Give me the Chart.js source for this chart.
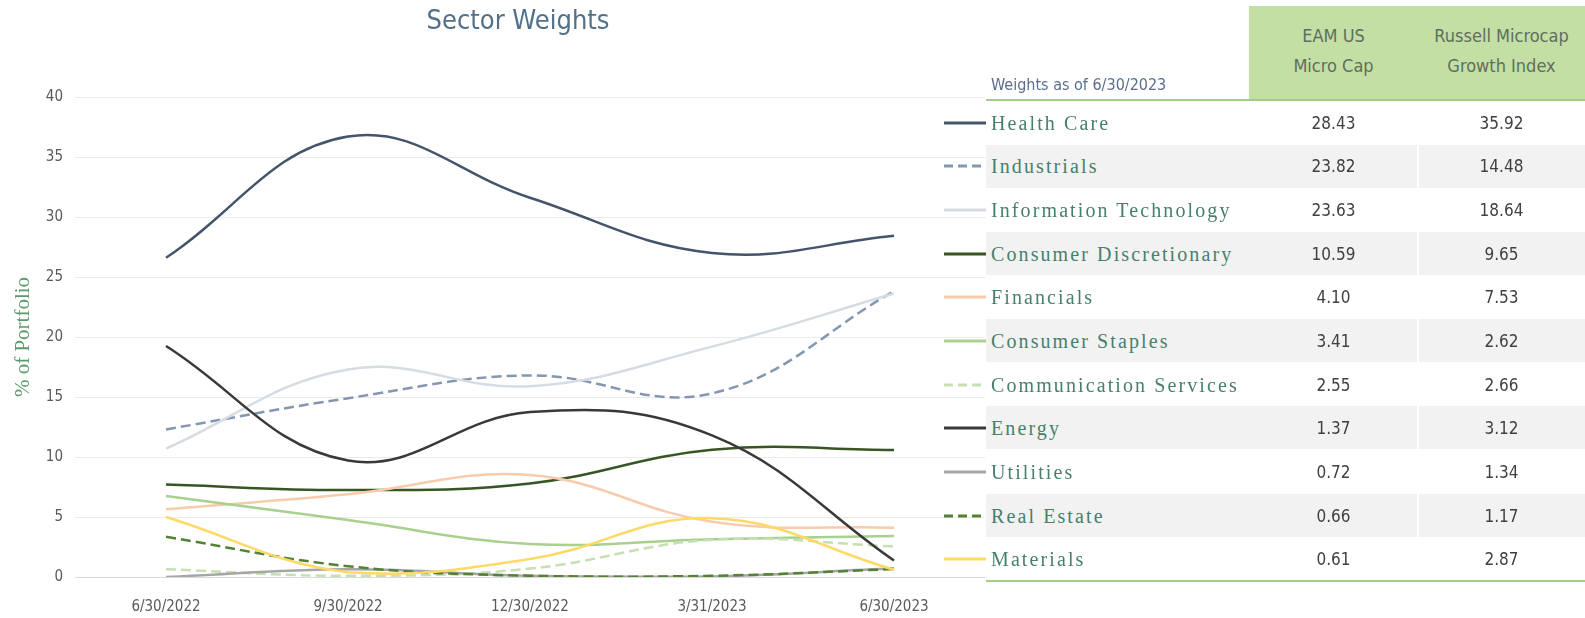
<!DOCTYPE html>
<html lang="en">
<head>
<meta charset="UTF-8">
<title>Sector Weights</title>
<script src="https://cdn.jsdelivr.net/npm/chart.js"></script>
<style>
  body { margin: 0; background: #fff; }
  #page { position: relative; width: 1585px; height: 618px; overflow: hidden; }
  #chart { position: absolute; left: 0; top: 0; }
  .narrow { font-family: "Liberation Sans Narrow", "DejaVu Sans Condensed", sans-serif; }
  .title { position: absolute; left: 400px; top: 3px; width: 236px; text-align: center;
           font-size: 27px; color: #527089; line-height: 34px; }
  .asof { position: absolute; left: 991px; top: 75px; font-size: 16px; color: #5b6e8c; line-height: 20px; }
  .head { position: absolute; top: 6px; height: 93px; background: #c4dfa3; }
  .headtxt { position: absolute; top: 21px; text-align: center; font-size: 18px; line-height: 30px; color: #5f6e60; }
  .rule { position: absolute; left: 986px; width: 599px; height: 2px; background: #a3cd86; }
  .shade { position: absolute; height: 43px; background: #f2f2f2; }
  .label { position: absolute; left: 991px; font-family: "Liberation Serif", "DejaVu Serif", serif;
           font-size: 20px; letter-spacing: 2.1px; color: #47806a; white-space: nowrap; }
  .val { position: absolute; text-align: center; font-size: 17px; color: #404040; }
  .swatch { position: absolute; left: 944px; }
</style>
</head>
<body>
<div id="page">
  <canvas id="chart" width="1585" height="618"></canvas>
  <div class="title narrow">Sector Weights</div>
  <div id="side"></div>
</div>

<script>
// данные графика
const dates = ['6/30/2022', '9/30/2022', '12/30/2022', '3/31/2023', '6/30/2023'];
const sectors = ['Health Care', 'Industrials', 'Information Technology', 'Consumer Discretionary',
                 'Financials', 'Consumer Staples', 'Communication Services', 'Energy',
                 'Utilities', 'Real Estate', 'Materials'];

const healthCare    = [26.6, 36.7, 31.6, 27.0, 28.43];
const industrials   = [12.3, 14.9, 16.8, 15.3, 23.82];
const infoTech      = [10.7, 17.3, 15.9, 19.2, 23.63];
const consDiscr     = [7.7, 7.25, 7.8, 10.6, 10.59];
const financials    = [5.65, 6.9, 8.5, 4.6, 4.10];
const consStaples   = [6.75, 4.75, 2.75, 3.15, 3.41];
const commServices  = [0.65, 0.1, 0.7, 3.1, 2.55];
const energy        = [19.25, 9.7, 13.75, 11.8, 1.37];
const utilities     = [0.0, 0.65, 0.1, 0.05, 0.72];
const realEstate    = [3.35, 0.9, 0.1, 0.1, 0.66];
const materials     = [5.0, 0.4, 1.5, 4.9, 0.61];

// таблица весов на 6/30/2023
const eamWeights     = ['28.43', '23.82', '23.63', '10.59', '4.10', '3.41', '2.55', '1.37', '0.72', '0.66', '0.61'];
const russellWeights = ['35.92', '14.48', '18.64', '9.65', '7.53', '2.62', '2.66', '3.12', '1.34', '1.17', '2.87'];

const yMin = 0, yMax = 40, yStep = 5;

const series = [healthCare, industrials, infoTech, consDiscr, financials, consStaples,
                commServices, energy, utilities, realEstate, materials];
const colors = ['#44546a', '#8497b0', '#d6dce4', '#375623', '#f8cbad', '#a9d08e',
                '#c6e0b4', '#3a3838', '#a6a6a6', '#548235', '#ffd966'];
const dashed = [false, true, false, false, false, false, true, false, false, true, false];

const narrow = '"Liberation Sans Narrow", "DejaVu Sans Condensed", sans-serif';

const datasets = series.map((d, i) => ({
  label: sectors[i],
  data: d,
  borderColor: colors[i],
  backgroundColor: colors[i],
  borderWidth: 2.5,
  borderDash: dashed[i] ? [10, 5] : [],
  pointRadius: 0,
  tension: 0.4,
  fill: false,
  order: series.length - i
}));

new Chart(document.getElementById('chart'), {
  type: 'line',
  data: { labels: dates, datasets: datasets },
  options: {
    responsive: false,
    animation: false,
    layout: { padding: { top: 97, right: 600, bottom: 2, left: 0 } },
    plugins: { legend: { display: false }, tooltip: { enabled: false } },
    scales: {
      x: {
        offset: true,
        grid: { display: false, drawTicks: false },
        border: { display: false },
        ticks: { color: '#595959', font: { family: narrow, size: 15 }, padding: 21, maxRotation: 0 },
        afterFit: s => { s.height = 39; }
      },
      y: {
        min: yMin, max: yMax,
        ticks: { stepSize: yStep, color: '#595959', font: { family: narrow, size: 15 }, padding: 12 },
        grid: { color: c => c.tick && c.tick.value === 0 ? '#d9d9d9' : '#ebebeb', drawTicks: false },
        border: { display: false },
        title: { display: true, text: '% of Portfolio', color: '#5c9a6c',
                 font: { family: '"Liberation Serif", "DejaVu Serif", serif', size: 21 },
                 padding: { top: 11, bottom: 0 } },
        afterFit: s => { s.width = 75; }
      }
    }
  }
});

// правая таблица
const side = document.getElementById('side');
let html = '';
html += '<div class="asof narrow">Weights as of 6/30/2023</div>';
html += '<div class="head" style="left:1249px;width:336px"></div>';
html += '<div class="headtxt narrow" style="left:1249px;width:169px">EAM US<br>Micro Cap</div>';
html += '<div class="headtxt narrow" style="left:1418px;width:167px">Russell Microcap<br>Growth Index</div>';
html += '<div class="rule" style="top:99px"></div>';

const rowTop = 101, rowH = 43.64;
sectors.forEach((name, i) => {
  const top = rowTop + i * rowH;
  if (i % 2 === 1) {
    html += `<div class="shade" style="top:${top}px;left:986px;width:431px"></div>`;
    html += `<div class="shade" style="top:${top}px;left:1419px;width:166px"></div>`;
  }
  const mid = top + rowH / 2;
  const dash = dashed[i] ? 'stroke-dasharray="9 5"' : '';
  html += `<svg class="swatch" style="top:${mid - 2}px" width="42" height="4">
             <line x1="0" y1="2" x2="42" y2="2" stroke="${colors[i]}" stroke-width="3" ${dash}/></svg>`;
  html += `<div class="label" style="top:${mid - 12}px;line-height:24px">${name}</div>`;
  html += `<div class="val narrow" style="top:${mid - 11}px;line-height:22px;left:1249px;width:169px">${eamWeights[i]}</div>`;
  html += `<div class="val narrow" style="top:${mid - 11}px;line-height:22px;left:1418px;width:167px">${russellWeights[i]}</div>`;
});
html += '<div class="rule" style="top:580px"></div>';
side.innerHTML = html;
</script>
</body>
</html>
